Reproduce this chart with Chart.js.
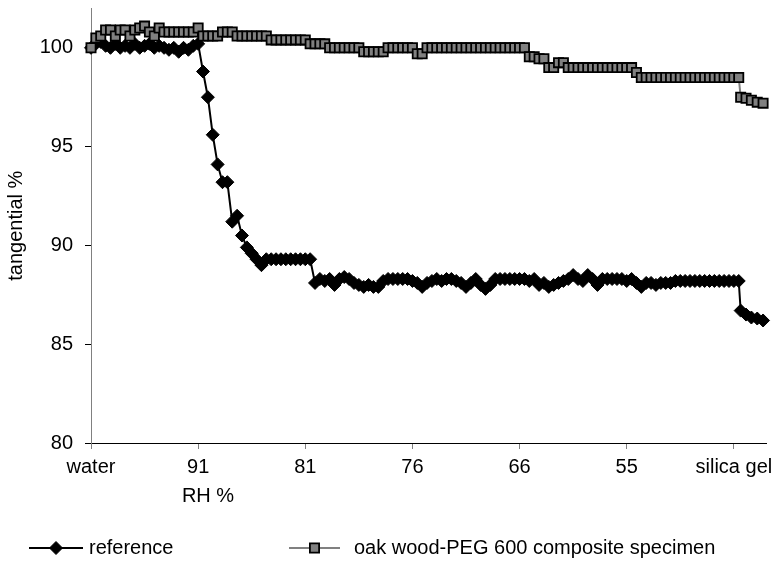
<!DOCTYPE html>
<html><head><meta charset="utf-8">
<script src="https://cdn.jsdelivr.net/npm/chart.js@4/dist/chart.umd.min.js"></script>
<style>html,body{margin:0;padding:0;background:#fff}#wrap{width:778px;height:578px;position:relative}</style>
</head><body><div id="wrap"><canvas id="c" width="778" height="578"></canvas></div>
<script>
// measurement steps (x position of each reading along the RH sequence)
const timeSteps = [0,1,2,3,4,5,6,7,8,9,10,11,12,13,14,15,16,17,18,19,
20,21,22,23,24,25,26,27,28,29,30,31,32,33,34,35,36,37,38,39,
40,41,42,43,44,45,46,47,48,49,50,51,52,53,54,55,56,57,58,59,
60,61,62,63,64,65,66,67,68,69,70,71,72,73,74,75,76,77,78,79,
80,81,82,83,84,85,86,87,88,89,90,91,92,93,94,95,96,97,98,99,
100,101,102,103,104,105,106,107,108,109,110,111,112,113,114,115,116,117,118,119,
120,121,122,123,124,125,126,127,128,129,130,131,132,133,133.4,134.5,135.6,136.8,138];

const referenceValues = [100.0,100.2,100.3,100.1,100.0,100.2,100.0,100.1,100.0,100.2,
100.0,100.1,100.2,100.0,100.1,100.0,99.9,100.0,99.8,100.0,
99.9,100.1,100.2,
98.8,97.5,95.6,94.1,93.2,93.2,91.2,91.5,90.5,89.9,89.6,89.3,89.0,
89.3,89.3,89.3,89.3,89.3,89.3,89.3,89.3,89.3,89.3,
88.1,88.3,88.2,88.3,88.0,
88.3,88.4,88.3,88.1,
88.0,87.9,88.0,87.9,87.9,
88.2,88.3,88.3,88.3,88.3,88.3,88.2,
88.1,87.9,88.1,88.2,
88.3,88.2,88.3,88.3,88.2,88.1,
87.9,88.1,88.3,88.0,87.8,88.0,
88.3,88.3,88.3,88.3,88.3,88.3,88.3,88.2,88.3,
88.0,88.1,87.9,88.0,88.1,88.2,
88.3,88.5,88.3,88.2,88.5,88.3,
88.0,88.3,88.3,88.3,88.3,88.3,88.2,88.3,88.1,
87.9,
88.1,88.1,88.0,88.1,88.1,88.1,88.2,88.2,
88.2,88.2,88.2,88.2,88.2,88.2,88.2,88.2,88.2,88.2,88.2,88.2,
86.7,86.5,86.35,86.3,86.2];

const compositeValues = [100.0,100.5,100.6,100.9,100.9,100.6,100.9,100.9,100.6,100.9,
101.0,101.1,100.8,100.6,101.0,100.8,100.8,100.8,100.8,100.8,
100.8,100.8,101.0,
100.6,100.6,100.6,100.6,
100.8,100.8,100.8,
100.6,100.6,100.6,100.6,100.6,100.6,100.6,
100.4,100.4,100.4,100.4,100.4,100.4,100.4,100.4,
100.2,100.2,100.2,100.2,
100.0,100.0,100.0,100.0,100.0,100.0,100.0,
99.8,99.8,99.8,99.8,99.8,
100.0,100.0,100.0,100.0,100.0,100.0,
99.7,99.7,
100.0,100.0,100.0,100.0,100.0,100.0,100.0,100.0,100.0,100.0,
100.0,100.0,100.0,100.0,100.0,100.0,100.0,100.0,100.0,100.0,100.0,
99.55,99.55,
99.45,99.45,
99.0,99.0,
99.25,99.25,
99.0,99.0,99.0,99.0,99.0,99.0,99.0,99.0,99.0,99.0,99.0,99.0,99.0,99.0,
98.75,
98.5,98.5,98.5,98.5,98.5,98.5,98.5,98.5,98.5,98.5,
98.5,98.5,98.5,98.5,98.5,98.5,98.5,98.5,98.5,98.5,98.5,
97.5,97.45,97.35,97.25,97.2];

const stageTickPositions = [0,22,44,66,88,110,132];
const stageLabels = ['water','91','81','76','66','55','silica gel'];
const seriesNames = ['reference','oak wood-PEG 600 composite specimen'];
const yAxisTitle = 'tangential %';
const xAxisTitle = 'RH %';

const FONT = "'Liberation Sans', Arial, sans-serif";
const FS = 20;

const toPoints = vals => timeSteps.map((t, i) => ({x: t, y: vals[i]}));

const extraText = {
  id: 'extraText',
  afterDraw(chart) {
    const ctx = chart.ctx;
    ctx.save();
    ctx.font = FS + 'px ' + FONT;
    ctx.fillStyle = '#000';
    ctx.textBaseline = 'middle';
    ctx.textAlign = 'center';
    ctx.fillText(xAxisTitle, 208, 496);
    // legend
    const items = [
      {ds: chart.data.datasets[0], x0: 29, x1: 83, tx: 89},
      {ds: chart.data.datasets[1], x0: 289, x1: 340, tx: 354}
    ];
    const ly = 548;
    items.forEach(it => {
      const ds = it.ds;
      ctx.strokeStyle = ds.borderColor;
      ctx.lineWidth = ds.borderWidth;
      ctx.beginPath(); ctx.moveTo(it.x0, ly); ctx.lineTo(it.x1, ly); ctx.stroke();
      ctx.fillStyle = ds.pointBackgroundColor;
      ctx.strokeStyle = ds.pointBorderColor;
      ctx.lineWidth = ds.pointBorderWidth;
      Chart.helpers.drawPoint(ctx, {pointStyle: ds.pointStyle, radius: ds.pointRadius, borderWidth: ds.pointBorderWidth, rotation: 0}, (it.x0 + it.x1) / 2, ly);
      ctx.fillStyle = '#000';
      ctx.textAlign = 'left';
      ctx.fillText(ds.label, it.tx, ly);
    });
    ctx.restore();
  }
};

new Chart(document.getElementById('c'), {
  type: 'line',
  data: {
    datasets: [
      {
        label: seriesNames[0], data: toPoints(referenceValues), order: 1,
        borderColor: '#000', borderWidth: 2,
        pointStyle: 'rectRot', pointRadius: 6.5, pointBackgroundColor: '#000',
        pointBorderColor: '#000', pointBorderWidth: 1, tension: 0, clip: false
      },
      {
        label: seriesNames[1], data: toPoints(compositeValues), order: 0,
        borderColor: '#808080', borderWidth: 2,
        pointStyle: 'rect', pointRadius: 6.5, pointBackgroundColor: '#808080',
        pointBorderColor: '#000', pointBorderWidth: 1.8, tension: 0, clip: false
      }
    ]
  },
  options: {
    responsive: false, animation: false, devicePixelRatio: 1,
    layout: {padding: {top: 5, right: 12, left: 0, bottom: 0}},
    plugins: {legend: {display: false}, tooltip: {enabled: false}},
    scales: {
      x: {
        type: 'linear', min: 0, max: 138.6,
        afterFit(s) { s.height = 135; s.paddingLeft = 0; s.paddingRight = 0; },
        afterBuildTicks(s) { s.ticks = stageTickPositions.map(v => ({value: v})); },
        grid: {drawOnChartArea: false, drawTicks: true, tickLength: 6, color: '#808080'},
        border: {display: true, color: '#000', width: 1},
        ticks: {
          autoSkip: false, maxRotation: 0, padding: 6, color: '#000',
          font: {family: FONT, size: FS},
          callback: (v, i) => stageLabels[i]
        }
      },
      y: {
        min: 80, max: 102,
        afterFit(s) { s.width = 91; s.paddingTop = 0; s.paddingBottom = 0; },
        afterBuildTicks(s) { s.ticks = s.ticks.filter(t => t.value % 5 === 0); },
        grid: {drawOnChartArea: false, drawTicks: true, tickLength: 6, color: '#000'},
        border: {display: true, color: '#808080', width: 1},
        ticks: {stepSize: 5, padding: 12, color: '#000', font: {family: FONT, size: FS}},
        title: {display: true, text: yAxisTitle, color: '#000', font: {family: FONT, size: FS}, padding: {top: 4, bottom: 0}}
      }
    }
  },
  plugins: [extraText]
});
</script></body></html>
